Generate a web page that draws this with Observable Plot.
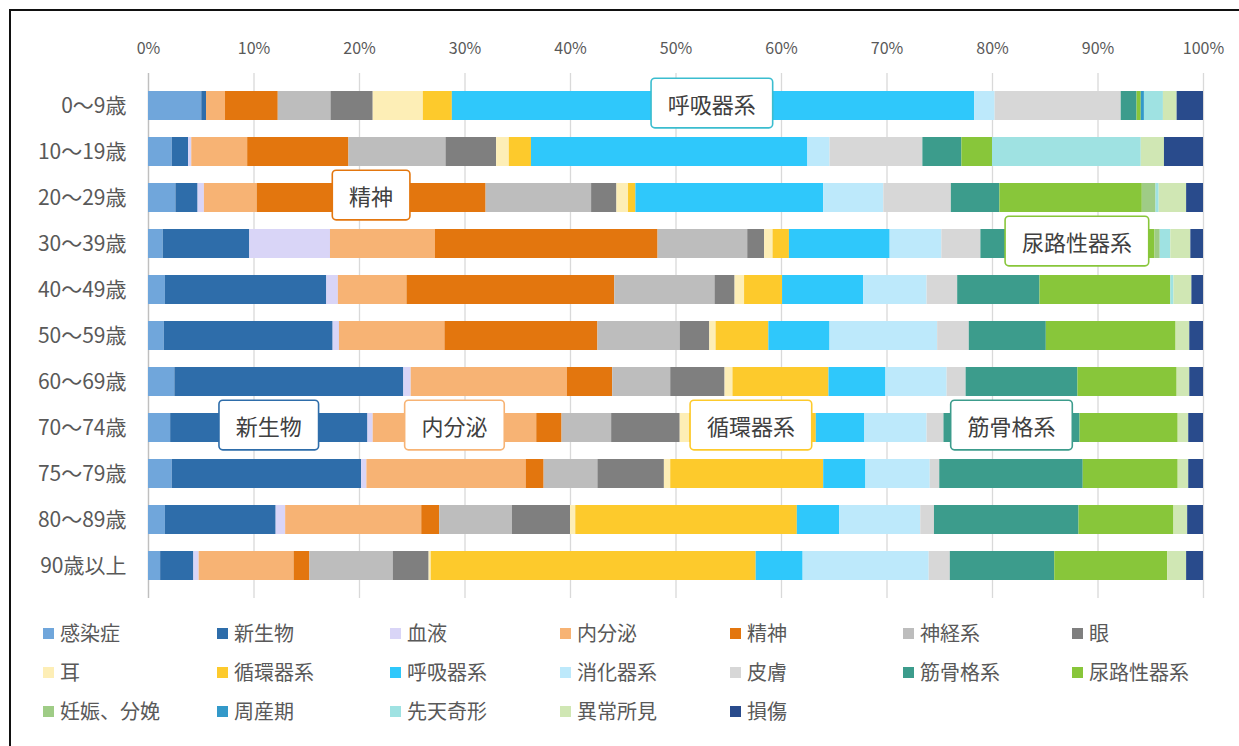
<!DOCTYPE html>
<html>
<head>
<meta charset="utf-8">
<script src="https://cdn.jsdelivr.net/npm/d3@7"></script>
<script src="https://cdn.jsdelivr.net/npm/@observablehq/plot@0.6"></script>
<style>
  html, body { margin: 0; padding: 0; background: #fff; }
  body { width: 1239px; height: 746px; position: relative; overflow: hidden;
         font-family: "Noto Sans CJK JP", "Noto Sans", sans-serif; }
  #frame { position: absolute; left: 9px; top: 9px; width: 1400px; height: 900px;
           border: 2px solid #111; box-sizing: border-box; }
  #chart { position: absolute; left: 0; top: 0; }
  #legend { position: absolute; left: 0; top: 0; width: 1239px; height: 746px; pointer-events: none; }
  .li { position: absolute; display: flex; align-items: center; font-size: 20px; color: #595959;
        white-space: nowrap; line-height: 1; }
  .sw { width: 11px; height: 11px; margin-right: 6px; }
</style>
</head>
<body>
<div id="frame"></div>
<div id="chart"></div>
<div id="legend"></div>
<script>
// ---- data ----
const ages = ["0〜9歳", "10〜19歳", "20〜29歳", "30〜39歳", "40〜49歳", "50〜59歳",
              "60〜69歳", "70〜74歳", "75〜79歳", "80〜89歳", "90歳以上"];

const causes = ["感染症", "新生物", "血液", "内分泌", "精神", "神経系", "眼", "耳",
                "循環器系", "呼吸器系", "消化器系", "皮膚", "筋骨格系", "尿路性器系",
                "妊娠、分娩", "周産期", "先天奇形", "異常所見", "損傷"];

const colors = ["#70a6db", "#2e6daa", "#d9d5f7", "#f7b374", "#e3760e", "#bdbdbd", "#7f7f7f", "#fdeeb6",
                "#fdca2c", "#2fc8fb", "#bde9fb", "#d7d7d7", "#3c9c8c", "#88c63a",
                "#9fcc86", "#3399c9", "#9fe2e2", "#d0e7b4", "#294b8c"];

// share (%) of each cause, one row per age group, in the order of `causes`
const share0  = [5.05, 0.45, 0.0, 1.8, 5.0, 5.0, 4.0, 4.75, 2.75, 49.5, 1.95, 11.95, 1.5, 0.4, 0.0, 0.3, 1.8, 1.3, 2.5];
const share1  = [2.25, 1.55, 0.3, 5.3, 9.6, 9.2, 4.8, 1.2, 2.1, 26.2, 2.1, 8.8, 3.7, 2.9, 0.0, 0.0, 14.1, 2.2, 3.7];
const share2  = [2.6, 2.1, 0.6, 5.0, 21.7, 10.0, 2.4, 1.1, 0.7, 17.8, 5.7, 6.4, 4.6, 13.5, 1.3, 0.0, 0.3, 2.6, 1.6];
const share3  = [1.4, 8.2, 7.65, 9.95, 21.1, 8.5, 1.6, 0.8, 1.55, 9.55, 4.9, 3.7, 4.6, 11.9, 0.5, 0.0, 1.0, 1.9, 1.2];
const share4  = [1.6, 15.3, 1.1, 6.5, 19.7, 9.5, 1.9, 0.9, 3.6, 7.7, 6.0, 2.9, 7.8, 12.4, 0.0, 0.0, 0.3, 1.7, 1.1];
const share5  = [1.5, 16.0, 0.6, 10.0, 14.5, 7.8, 2.8, 0.6, 5.0, 5.8, 10.2, 3.0, 7.3, 12.3, 0.0, 0.0, 0.0, 1.3, 1.3];
const share6  = [2.5, 21.7, 0.7, 14.8, 4.3, 5.5, 5.15, 0.75, 9.1, 5.4, 5.8, 1.8, 10.6, 9.4, 0.0, 0.0, 0.0, 1.2, 1.3];
const share7  = [2.1, 18.7, 0.5, 15.5, 2.4, 4.7, 6.5, 0.9, 12.0, 4.6, 5.9, 1.6, 12.9, 9.3, 0.0, 0.0, 0.0, 1.0, 1.4];
const share8  = [2.25, 17.95, 0.5, 15.1, 1.7, 5.1, 6.3, 0.6, 14.5, 4.0, 6.1, 0.9, 13.6, 9.0, 0.0, 0.0, 0.0, 1.0, 1.4];
const share9  = [1.6, 10.5, 0.9, 12.9, 1.7, 6.9, 5.5, 0.5, 21.0, 4.0, 7.7, 1.3, 13.7, 9.0, 0.0, 0.0, 0.0, 1.3, 1.5];
const share10 = [1.15, 3.15, 0.5, 9.0, 1.5, 7.9, 3.4, 0.2, 30.8, 4.45, 11.95, 2.0, 9.9, 10.7, 0.0, 0.0, 0.0, 1.8, 1.6];
const shares = [share0, share1, share2, share3, share4, share5, share6, share7, share8, share9, share10];

const xTicks = [0, 0.1, 0.2, 0.3, 0.4, 0.5, 0.6, 0.7, 0.8, 0.9, 1.0];

// callout labels: cause name, age row, centre as share of the bar
const calloutLabels = ["呼吸器系", "精神", "尿路性器系", "新生物", "内分泌", "循環器系", "筋骨格系"];
const calloutAges   = ["0〜9歳", "20〜29歳", "30〜39歳", "70〜74歳", "70〜74歳", "70〜74歳", "70〜74歳"];
const calloutAt     = [0.534, 0.211, 0.880, 0.114, 0.290, 0.571, 0.818];

// ---- build table ----
const rows = [];
ages.forEach((a, i) => causes.forEach((c, j) => rows.push({age: a, cause: c, value: shares[i][j]})));
const callouts = calloutLabels.map((l, i) => ({label: l, age: calloutAges[i], x: calloutAt[i]}));
const colorOf = Object.fromEntries(causes.map((c, i) => [c, colors[i]]));
const borderOf = {"呼吸器系": "#3bbdcf"};

const plot = Plot.plot({
  width: 1239,
  height: 612,
  marginLeft: 148,
  marginRight: 36,
  marginTop: 73,
  marginBottom: 14,
  style: {fontFamily: '"Noto Sans CJK JP", "Noto Sans", sans-serif', background: "transparent"},
  x: {domain: [0, 1], axis: null},
  y: {domain: ages, padding: 0.37, axis: null},
  color: {domain: causes, range: colors},
  marks: [
    Plot.ruleX(xTicks, {stroke: "#d9d9d9", strokeWidth: 1.3}),
    Plot.axisX({anchor: "top", ticks: xTicks, tickFormat: d => Math.round(d * 100) + "%",
                tickSize: 0, tickPadding: 20, fontSize: 16, color: "#595959", label: null}),
    Plot.axisY({anchor: "left", tickSize: 0, tickPadding: 22, fontSize: 21, color: "#595959", label: null}),
    Plot.ruleX([0], {stroke: "#bfbfbf", strokeWidth: 1.3}),
    Plot.barX(rows, Plot.stackX({x: "value", y: "age", fill: "cause", offset: "normalize", inset: 0})),
    Plot.text(callouts, {x: "x", y: "age", text: "label", fontSize: 22, fill: "#404040",
                         className: "callout", stroke: d => borderOf[d.label] || colorOf[d.label], strokeWidth: 0})
  ]
});
document.getElementById("chart").appendChild(plot);

// draw the boxes behind the callout texts, sized from the rendered texts
const svgNS = "http://www.w3.org/2000/svg";
plot.querySelectorAll("g.callout").forEach(g => {
  g.querySelectorAll("text").forEach(t => {
    const bb = t.getBBox();
    const col = t.getAttribute("stroke") || "#888";
    t.setAttribute("stroke", "none");
    const cy = bb.y + bb.height / 2;
    const r = document.createElementNS(svgNS, "rect");
    const tr = t.getAttribute("transform");
    if (tr) r.setAttribute("transform", tr);
    r.setAttribute("x", bb.x - 16);
    r.setAttribute("y", cy - 24);
    r.setAttribute("width", bb.width + 32);
    r.setAttribute("height", 48);
    r.setAttribute("rx", 3);
    r.setAttribute("fill", "#fff");
    r.setAttribute("stroke", col);
    r.setAttribute("stroke-width", 3.2);
    g.insertBefore(r, t);
  });
});

// ---- legend ----
const legendCols = [43, 217, 390, 560, 730, 903, 1072];
const legendRows = [634, 673, 712];
const lg = document.getElementById("legend");
causes.forEach((c, i) => {
  const el = document.createElement("div");
  el.className = "li";
  el.style.left = legendCols[i % 7] + "px";
  el.style.top = (legendRows[Math.floor(i / 7)] - 11) + "px";
  el.innerHTML = `<span class="sw" style="background:${colors[i]}"></span><span>${c}</span>`;
  lg.appendChild(el);
});
</script>
</body>
</html>
